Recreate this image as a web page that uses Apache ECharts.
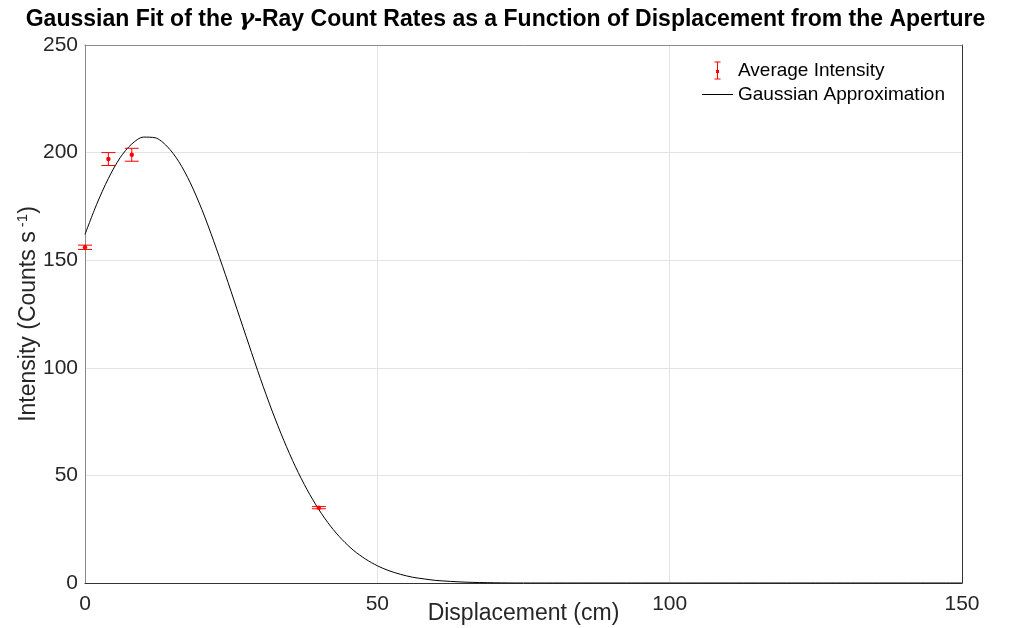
<!DOCTYPE html>
<html>
<head>
<meta charset="utf-8">
<script src="https://cdn.jsdelivr.net/npm/echarts@6/dist/echarts.min.js"></script>
<style>
  html, body { margin: 0; padding: 0; background: #fff; }
  #chart { width: 1011px; height: 628px; }
</style>
</head>
<body>
<div id="chart"></div>
<script>
// measured points (displacement cm, intensity counts/s, +/- error)
const pointX = [0, 4, 8, 40];
const pointY = [156, 197, 199, 35];
const pointErr = [1, 3, 3, 0.5];

// fitted curve
const curveX = [0, 2, 4, 6, 8, 10, 12, 14, 16, 18, 20, 22, 24, 26, 28, 30, 32, 34, 36, 38,
  40, 42, 44, 46, 48, 50, 52, 54, 56, 58, 60, 65, 70, 75, 80, 100, 120, 150];
const curveY = [162, 176, 188, 197.6, 204, 207.2, 206.9, 203, 196, 186, 173.5, 159, 143.4, 127.2, 111, 95, 80, 66.3, 54, 43.3,
  34.1, 26.4, 20.1, 15, 11.1, 8, 5.7, 4, 2.7, 1.9, 1.2, 0.4, 0.1, 0, 0, 0, 0, 0];

const xTicks = [0, 50, 100, 150];
const yTicks = [0, 50, 100, 150, 200, 250];

const axisColor = "#262626";
const gridColor = "#e3e3e3";
const font = "Liberation Sans";

const chart = echarts.init(document.getElementById("chart"));

const errData = pointX.map((x, i) => [x, pointY[i], pointErr[i]]);
const curveData = curveX.map((x, i) => [x, curveY[i]]);

function renderErr(params, api) {
  const x = api.value(0);
  const y = api.value(1);
  const e = api.value(2);
  const top = api.coord([x, y + e]);
  const bot = api.coord([x, y - e]);
  const mid = api.coord([x, y]);
  const hw = 7;
  const style = { stroke: "#ff0000", lineWidth: 1 };
  return {
    type: "group",
    children: [
      { type: "line", shape: { x1: top[0], y1: top[1], x2: bot[0], y2: bot[1] }, style },
      { type: "line", shape: { x1: top[0] - hw, y1: top[1], x2: top[0] + hw, y2: top[1] }, style },
      { type: "line", shape: { x1: bot[0] - hw, y1: bot[1], x2: bot[0] + hw, y2: bot[1] }, style },
      { type: "circle", shape: { cx: mid[0], cy: mid[1], r: 2.2 }, style: { fill: "#ff0000" } },
    ],
  };
}

const errIcon = "path://M0,0h6v1h-2.5v7.5h1v3h-1v5.5h2.5v1h-6v-1h2.5v-5.5h-1v-3h1v-7.5h-2.5z";

const labelStyle = { fontFamily: font, fontSize: 21, color: axisColor };

function borderAxis(position, color) {
  return {
    type: "value",
    position: position,
    axisLine: { show: true, onZero: false, lineStyle: { color: color } },
    axisTick: { show: false },
    axisLabel: { show: false },
    splitLine: { show: false },
  };
}

const option = {
  animation: false,
  backgroundColor: "#fff",
  title: {
    text: "{b|Gaussian Fit of the }{g|γ}{b|-Ray Count Rates as a Function of Displacement from the Aperture}",
    left: "center",
    top: 3,
    textStyle: {
      rich: {
        b: { fontFamily: font, fontWeight: "bold", fontSize: 23, color: "#000" },
        g: { fontFamily: "DejaVu Serif", fontStyle: "italic", fontSize: 23, color: "#000" },
      },
    },
  },
  legend: {
    orient: "vertical",
    left: 697,
    top: 56,
    itemWidth: 31,
    itemHeight: 18,
    itemGap: 5,
    textStyle: { fontFamily: font, fontSize: 19, color: "#000" },
    data: [
      { name: "Average Intensity", icon: errIcon, itemStyle: { color: "#ff0000" } },
      { name: "Gaussian Approximation", icon: "path://M0,0h31v1h-31z", itemStyle: { color: "#000" } },
    ],
  },
  grid: { left: 85, right: 49, top: 45, bottom: 45, outerBoundsMode: "none" },
  xAxis: [
    {
      type: "value",
      position: "bottom",
      min: 0,
      max: 150,
      interval: 50,
      name: "Displacement (cm)",
      nameLocation: "middle",
      nameGap: 19,
      nameMoveOverlap: false,
      nameTextStyle: { fontFamily: font, fontSize: 23, color: axisColor },
      axisLine: { onZero: false, lineStyle: { color: "#333" } },
      axisTick: { show: false },
      axisLabel: Object.assign({ margin: 11 }, labelStyle),
      splitLine: { show: true, lineStyle: { color: gridColor } },
    },
    Object.assign(borderAxis("top", "#8a8a8a"), { min: 0, max: 150, interval: 50 }),
  ],
  yAxis: [
    {
      type: "value",
      position: "left",
      min: 0,
      max: 250,
      interval: 50,
      name: "{a|Intensity (Counts s}{s| -1}{a|)}",
      nameLocation: "middle",
      nameRotate: 90,
      nameGap: 42,
      nameMoveOverlap: false,
      nameTextStyle: {
        rich: {
          a: { fontFamily: font, fontSize: 23, color: axisColor },
          s: { fontFamily: font, fontSize: 15, color: axisColor, padding: [0, 0, 13, 0] },
        },
      },
      axisLine: { show: true, onZero: false, lineStyle: { color: "#8a8a8a" } },
      axisTick: { show: false },
      axisLabel: Object.assign({ margin: 7 }, labelStyle),
      splitLine: { show: true, lineStyle: { color: gridColor } },
    },
    Object.assign(borderAxis("right", "#333"), { min: 0, max: 250, interval: 50 }),
  ],
  series: [
    {
      name: "Gaussian Approximation",
      type: "line",
      data: curveData,
      smooth: 0.3,
      showSymbol: false,
      lineStyle: { color: "#000", width: 1 },
      itemStyle: { color: "#000" },
    },
    {
      name: "Average Intensity",
      type: "custom",
      renderItem: renderErr,
      data: errData,
      clip: false,
      encode: { x: 0, y: 1 },
      itemStyle: { color: "#ff0000" },
      z: 5,
    },
  ],
};

chart.setOption(option);
</script>
</body>
</html>
